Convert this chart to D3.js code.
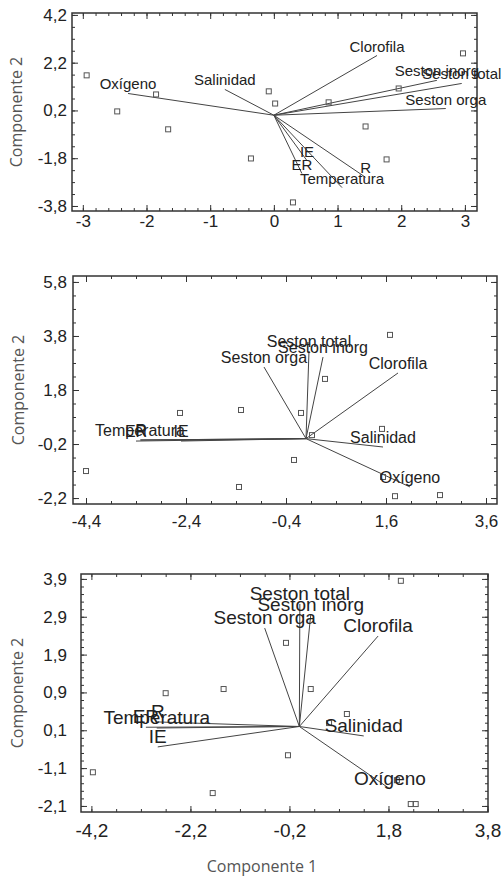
<!DOCTYPE html>
<html>
<head>
<meta charset="utf-8">
<script src="https://cdn.jsdelivr.net/npm/d3@7"></script>
<style>
  body { margin: 0; background: #fff; }
  svg { display: block; }
</style>
</head>
<body>
<svg id="chart"></svg>
<script>
// ---- panel 1 ----
const vars1  = ["Oxígeno", "Salinidad", "Clorofila", "Seston inorg", "Seston total", "Seston orga", "IE", "ER", "R", "Temperatura"];
const load1X = [-2.29, -0.77, 1.62, 2.56, 2.95, 2.70, 0.52, 0.44, 1.44, 1.07];
const load1Y = [0.91, 1.08, 2.50, 1.46, 1.33, 0.28, -1.90, -2.44, -2.60, -3.03];
const score1X = [-2.94, -2.46, -1.85, -1.66, -0.36, -0.08, 0.02, 0.86, 1.44, 1.77, 1.96, 2.97, 0.30];
const score1Y = [1.67, 0.16, 0.87, -0.59, -1.81, 1.00, 0.49, 0.54, -0.47, -1.85, 1.12, 2.59, -3.65];
const ticks1X = [-3, -2, -1, 0, 1, 2, 3];
const tickLabels1X = ["-3", "-2", "-1", "0", "1", "2", "3"];
const ticks1Y = [4.2, 2.2, 0.2, -1.8, -3.8];
const tickLabels1Y = ["4,2", "2,2", "0,2", "-1,8", "-3,8"];

// ---- panel 2 ----
const vars2  = ["Seston orga", "Seston total", "Seston inorg", "Clorofila", "Salinidad", "Oxígeno", "Temperatura", "ER", "R", "IE"];
const load2X = [-0.84, 0.06, 0.34, 1.84, 1.54, 2.08, -3.32, -3.40, -3.30, -2.50];
const load2Y = [2.65, 3.24, 3.02, 2.43, -0.31, -1.79, -0.05, -0.09, -0.05, -0.09];
const score2X = [-4.40, -2.52, -1.30, -1.34, 1.68, 0.38, -0.10, 0.12, -0.24, 1.52, 1.54, 1.78, 2.68];
const score2Y = [-1.20, 0.95, 1.06, -1.79, 3.84, 2.21, 0.95, 0.13, -0.79, 0.36, -1.42, -2.13, -2.09];
const ticks2X = [-4.4, -2.4, -0.4, 1.6, 3.6];
const tickLabels2X = ["-4,4", "-2,4", "-0,4", "1,6", "3,6"];
const ticks2Y = [5.8, 3.8, 1.8, -0.2, -2.2];
const tickLabels2Y = ["5,8", "3,8", "1,8", "-0,2", "-2,2"];

// ---- panel 3 ----
const vars3  = ["Seston orga", "Seston total", "Seston inorg", "Clorofila", "Salinidad", "Oxígeno", "Temperatura", "ER", "R", "IE"];
const load3X = [-0.70, 0.01, 0.23, 1.59, 1.30, 1.83, -2.88, -3.10, -2.86, -2.86];
const load3Y = [2.60, 3.24, 2.95, 2.39, -0.25, -1.65, -0.04, -0.02, 0.12, -0.54];
const score3X = [-2.70, -1.53, -4.17, -1.75, 2.05, -0.27, 0.23, 0.96, -0.23, 1.97, 2.25, 2.35, 0.60];
const score3Y = [0.88, 0.99, -1.21, -1.76, 3.85, 2.21, 0.99, 0.33, -0.76, -1.42, -2.05, -2.05, 0.09];
const ticks3X = [-4.2, -2.2, -0.2, 1.8, 3.8];
const tickLabels3X = ["-4,2", "-2,2", "-0,2", "1,8", "3,8"];
const ticks3Y = [3.9, 2.9, 1.9, 0.9, -0.1, -1.1, -2.1];
const tickLabels3Y = ["3,9", "2,9", "1,9", "0,9", "0,1", "-1,1", "-2,1"];

const xTitle = "Componente 1";
const yTitle = "Componente 2";

const width = 502, height = 879;
const svg = d3.select("#chart").attr("width", width).attr("height", height);
svg.append("rect").attr("width", width).attr("height", height).attr("fill", "#fff");

const panels = [
  { vars: vars1, lx: load1X, ly: load1Y, sx: score1X, sy: score1Y,
    tx: ticks1X, txl: tickLabels1X, ty: ticks1Y, tyl: tickLabels1Y,
    box: [72, 13, 477, 211], xd: [-3.17, 3.19], yd: [-4.01, 4.28],
    minorX: 0.2, minorY: 0.5, labelSize: 15, fontX: 17, fontY: 17, padX: 4, padY: 5, titleX: 16 },
  { vars: vars2, lx: load2X, ly: load2Y, sx: score2X, sy: score2Y,
    tx: ticks2X, txl: tickLabels2X, ty: ticks2Y, tyl: tickLabels2Y,
    box: [73, 276, 497, 504], xd: [-4.66, 3.82], yd: [-2.42, 6.02],
    minorX: 0.5, minorY: 0.5, labelSize: 16, fontX: 17, fontY: 17, padX: 11, padY: 6, titleX: 18 },
  { vars: vars3, lx: load3X, ly: load3Y, sx: score3X, sy: score3Y,
    tx: ticks3X, txl: tickLabels3X, ty: ticks3Y, tyl: tickLabels3Y,
    box: [81, 574, 488, 812], xd: [-4.41, 3.81], yd: [-2.26, 4.03],
    minorX: 0.5, minorY: 0.2, labelSize: 19, fontX: 19, fontY: 17, padX: 12, padY: 14, titleX: 17 }
];

// minor tick values stepping out from the first major tick
function minorTicks(major, step, domain) {
  const out = [];
  for (let v = major[0]; v >= domain[0] - 1e-9; v -= step) out.push(v);
  for (let v = major[0] + step; v <= domain[1] + 1e-9; v += step) out.push(v);
  return out;
}

panels.forEach(p => {
  const [l, t, r, b] = p.box;
  const x = d3.scaleLinear().domain(p.xd).range([l, r]);
  const y = d3.scaleLinear().domain(p.yd).range([b, t]);
  const g = svg.append("g");
  const fmtX = d => p.txl[p.tx.indexOf(d)];
  const fmtY = d => p.tyl[p.ty.indexOf(d)];

  const mx = minorTicks(p.tx, p.minorX, p.xd);
  const my = minorTicks(p.ty, p.minorY, p.yd);

  // minor ticks, all four sides, pointing inward
  g.append("g").attr("transform", `translate(0,${b})`).call(d3.axisBottom(x).tickValues(mx).tickSize(-3).tickFormat(""));
  g.append("g").attr("transform", `translate(0,${t})`).call(d3.axisTop(x).tickValues(mx).tickSize(-3).tickFormat(""));
  g.append("g").attr("transform", `translate(${l},0)`).call(d3.axisLeft(y).tickValues(my).tickSize(-3).tickFormat(""));
  g.append("g").attr("transform", `translate(${r},0)`).call(d3.axisRight(y).tickValues(my).tickSize(-3).tickFormat(""));

  // major ticks
  g.append("g").attr("class", "axx").attr("transform", `translate(0,${b})`)
    .call(d3.axisBottom(x).tickValues(p.tx).tickSize(-6).tickPadding(p.padX).tickFormat(fmtX));
  g.append("g").attr("transform", `translate(0,${t})`).call(d3.axisTop(x).tickValues(p.tx).tickSize(-6).tickFormat(""));
  g.append("g").attr("class", "axy").attr("transform", `translate(${l},0)`)
    .call(d3.axisLeft(y).tickValues(p.ty).tickSize(-6).tickPadding(p.padY).tickFormat(fmtY));
  g.append("g").attr("transform", `translate(${r},0)`).call(d3.axisRight(y).tickValues(p.ty).tickSize(-6).tickFormat(""));

  g.selectAll(".domain").remove();
  g.selectAll(".tick line").attr("stroke", "#333").attr("stroke-width", 1);
  g.selectAll(".axx text, .axy text")
    .attr("font-family", "'Liberation Sans', Arial, sans-serif")
    .attr("fill", "#222");
  g.selectAll(".axx text").attr("font-size", p.fontX);
  g.selectAll(".axy text").attr("font-size", p.fontY);

  g.append("rect")
    .attr("x", l).attr("y", t).attr("width", r - l).attr("height", b - t)
    .attr("fill", "none").attr("stroke", "#333").attr("stroke-width", 1.5);

  // vectors
  g.selectAll("line.vec").data(p.vars).enter().append("line")
    .attr("class", "vec")
    .attr("x1", x(0)).attr("y1", y(0))
    .attr("x2", (d, i) => x(p.lx[i])).attr("y2", (d, i) => y(p.ly[i]))
    .attr("stroke", "#444").attr("stroke-width", 1);

  // observation scores
  g.selectAll("rect.pt").data(p.sx).enter().append("rect")
    .attr("class", "pt")
    .attr("x", (d, i) => x(d) - 2.5).attr("y", (d, i) => y(p.sy[i]) - 2.5)
    .attr("width", 5).attr("height", 5)
    .attr("fill", "none").attr("stroke", "#555").attr("stroke-width", 1);

  g.selectAll("text.lab").data(p.vars).enter().append("text")
    .attr("class", "lab")
    .attr("x", (d, i) => x(p.lx[i])).attr("y", (d, i) => y(p.ly[i]) - 4)
    .attr("text-anchor", "middle")
    .attr("font-family", "'Liberation Sans', Arial, sans-serif")
    .attr("font-size", p.labelSize)
    .attr("fill", "#222")
    .text(d => d);

  svg.append("text")
    .attr("transform", `translate(${p.titleX},${(t + b) / 2}) rotate(-90)`)
    .attr("text-anchor", "middle").attr("dominant-baseline", "central")
    .attr("font-family", "'Open Sans', sans-serif").attr("font-size", 16)
    .attr("fill", "#555")
    .text(yTitle);
});

svg.append("text")
  .attr("x", 262).attr("y", 872)
  .attr("text-anchor", "middle")
  .attr("font-family", "'Open Sans', sans-serif").attr("font-size", 16)
  .attr("fill", "#555")
  .text(xTitle);
</script>
</body>
</html>
